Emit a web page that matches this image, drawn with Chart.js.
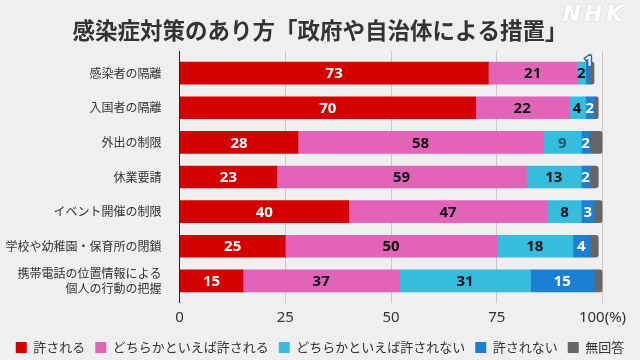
<!DOCTYPE html>
<html>
<head>
<meta charset="utf-8">
<script src="https://cdn.jsdelivr.net/npm/chart.js@4/dist/chart.umd.min.js"></script>
<style>
  html, body { margin: 0; padding: 0; background: #efefef; }
  canvas { display: block; }
</style>
</head>
<body>
<canvas id="c" width="640" height="360"></canvas>
<script>
// ---- data ----
const titleText = '感染症対策のあり方「政府や自治体による措置」';
const categories = [
  '感染者の隔離',
  '入国者の隔離',
  '外出の制限',
  '休業要請',
  'イベント開催の制限',
  '学校や幼稚園・保育所の閉鎖',
  ['携帯電話の位置情報による', '個人の行動の把握']
];
const seriesNames = ['許される', 'どちらかといえば許される', 'どちらかといえば許されない', '許されない', '無回答'];
const allowed          = [73, 70, 28, 23, 40, 25, 15];
const ratherAllowed    = [21, 22, 58, 59, 47, 50, 37];
const ratherNotAllowed = [2, 4, 9, 13, 8, 18, 31];
const notAllowed       = [1, 2, 2, 2, 3, 4, 15];
const noAnswer         = [1, 1, 3, 2, 2, 2, 2];
const xTicks = [0, 25, 50, 75, 100];

// ---- styles ----
const colors = ['#d50000', '#e363b9', '#35bde0', '#1a80d6', '#666666'];
const labelColors = [
  ['#ffffff'],
  ['#111111'],
  ['#111111', '#111111', '#2b5561', '#111111', '#111111', '#111111', '#111111'],
  ['#ffffff'],
  null
];
const JP = '"Noto Sans CJK JP", "Noto Sans", sans-serif';

const seriesValues = [allowed, ratherAllowed, ratherNotAllowed, notAllowed, noAnswer];

const datasets = seriesValues.map((vals, si) => ({
  label: seriesNames[si],
  data: vals.map((v, i) => ({ x: v, y: i })),
  backgroundColor: colors[si],
  borderWidth: 0,
  barThickness: 22,
  borderRadius: si === 4 ? 3 : 0,
  borderSkipped: 'start',
  labelColors: labelColors[si]
}));

const valueLabels = {
  id: 'valueLabels',
  afterDatasetsDraw(chart) {
    const ctx = chart.ctx;
    ctx.save();
    ctx.font = 'bold 15px "Noto Sans", sans-serif';
    ctx.textAlign = 'center';
    ctx.textBaseline = 'middle';
    chart.data.datasets.forEach((ds, di) => {
      if (!ds.labelColors) return;
      const meta = chart.getDatasetMeta(di);
      meta.data.forEach((el, i) => {
        const v = ds.data[i].x;
        const p = el.getCenterPoint();
        const col = ds.labelColors[i] || ds.labelColors[0];
        if (v <= 1) {
          ctx.lineWidth = 3;
          ctx.strokeStyle = '#1a6fc0';
          ctx.strokeText(String(v), p.x + 1, p.y - 11);
          ctx.fillStyle = '#ffffff';
          ctx.fillText(String(v), p.x + 1, p.y - 11);
        } else {
          ctx.fillStyle = col;
          ctx.fillText(String(v), p.x, p.y + 1);
        }
      });
    });
    ctx.restore();
  }
};

const extras = {
  id: 'extras',
  afterLayout(chart) {
    const l = chart.legend;
    if (l) { l.top += 4; l.bottom += 4; }
  },
  afterDraw(chart) {
    const ctx = chart.ctx;
    ctx.save();
    ctx.font = 'italic bold 21px "DejaVu Sans", sans-serif';
    ctx.letterSpacing = '4px';
    ctx.textAlign = 'left';
    ctx.textBaseline = 'alphabetic';
    ctx.shadowColor = 'rgba(0,0,0,0.18)';
    ctx.shadowBlur = 2;
    ctx.fillStyle = '#ffffff';
    ctx.fillText('NHK', 563, 21);
    ctx.restore();
  }
};

new Chart(document.getElementById('c'), {
  type: 'bar',
  data: { datasets },
  plugins: [valueLabels, extras],
  options: {
    responsive: false,
    animation: false,
    devicePixelRatio: 1,
    indexAxis: 'y',
    layout: { padding: { left: 0, right: 0, top: 0, bottom: 0 } },
    scales: {
      x: {
        type: 'linear',
        stacked: true,
        min: 0,
        max: 100,
        afterBuildTicks(s) { s.ticks = xTicks.map(v => ({ value: v })); },
        afterFit(s) { s.height = 24; s.paddingRight = 37.5; s.paddingLeft = 0; },
        ticks: {
          padding: 6,
          color: '#333',
          font: { family: '"Noto Sans", sans-serif', size: 15 },
          callback: v => (v === 100 ? '100(%)' : String(v))
        },
        grid: {
          drawTicks: false,
          color: ctx => (ctx.tick && ctx.tick.value === 0 ? '#222222' : '#c9c9c9'),
          lineWidth: 1
        },
        border: { display: false }
      },
      y: {
        type: 'linear',
        stacked: true,
        reverse: true,
        offset: false,
        min: -0.64,
        max: 6.64,
        afterBuildTicks(s) { s.ticks = categories.map((c, i) => ({ value: i })); },
        afterFit(s) { s.width = 179.5; s.paddingTop = 0; s.paddingBottom = 0; },
        ticks: {
          padding: 10,
          color: '#333',
          font: { family: JP, size: 12, lineHeight: 1.2 },
          callback: v => categories[v]
        },
        grid: { display: false, offset: false },
        border: { display: false }
      }
    },
    plugins: {
      title: {
        display: true,
        text: titleText,
        color: '#333',
        font: { family: JP, size: 22.5, weight: 'bold' },
        padding: { top: 16.5, bottom: 7.5 }
      },
      legend: {
        position: 'bottom',
        labels: {
          boxWidth: 11,
          boxHeight: 11,
          padding: 10,
          color: '#333',
          font: { family: JP, size: 13 }
        }
      },
      tooltip: { enabled: false }
    }
  }
});
</script>
</body>
</html>
